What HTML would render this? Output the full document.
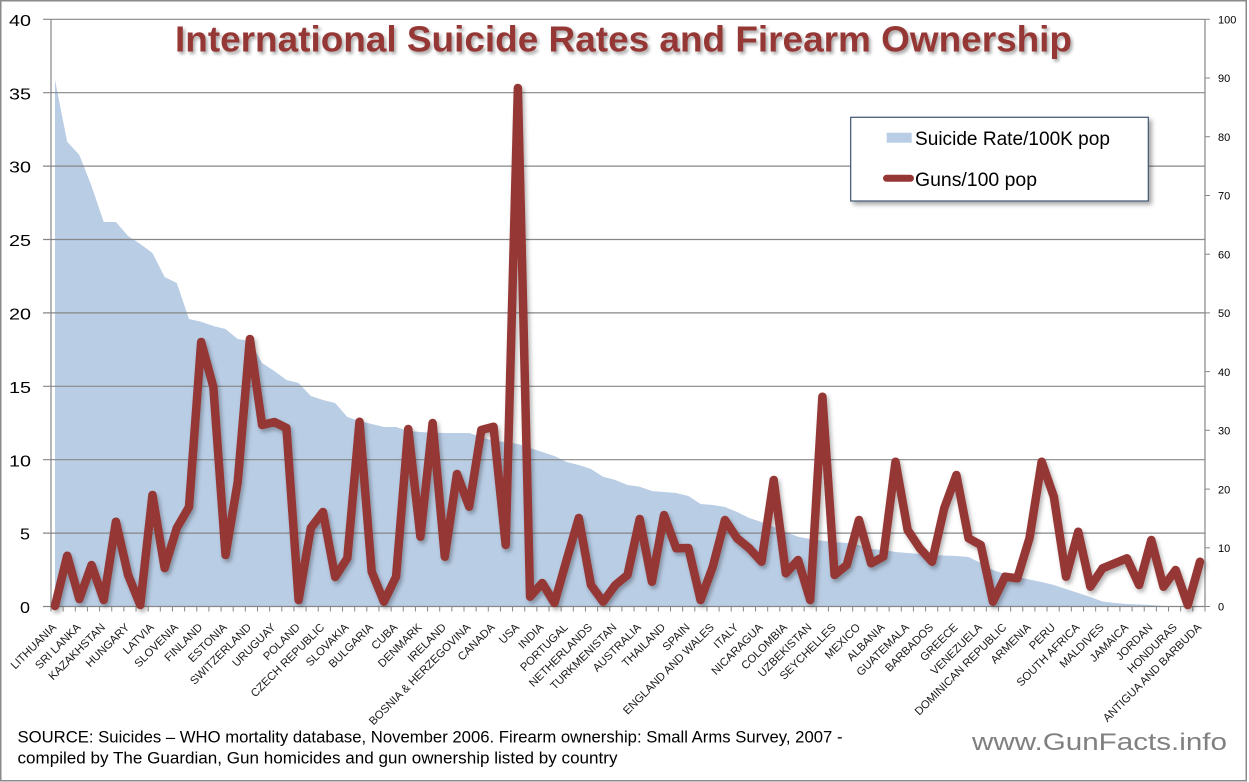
<!DOCTYPE html>
<html><head><meta charset="utf-8"><style>
html,body{margin:0;padding:0;background:#fff;}
svg{display:block;}
text{font-family:"Liberation Sans",Arial,sans-serif;}
</style></head><body>
<svg width="1249" height="782" viewBox="0 0 1249 782" xmlns="http://www.w3.org/2000/svg">
<defs>
<filter id="ts" x="-5%" y="-30%" width="110%" height="160%"><feDropShadow dx="2" dy="2.5" stdDeviation="1.5" flood-color="#000" flood-opacity="0.35"/></filter>
<filter id="ls" x="-5%" y="-5%" width="110%" height="110%"><feDropShadow dx="2" dy="3" stdDeviation="2" flood-color="#000" flood-opacity="0.3"/></filter>
<filter id="bs" x="-10%" y="-20%" width="120%" height="140%"><feDropShadow dx="3" dy="3" stdDeviation="2.5" flood-color="#000" flood-opacity="0.35"/></filter>
</defs>
<rect x="0" y="0" width="1249" height="782" fill="#fff"/>
<rect x="0.75" y="0.75" width="1245.5" height="780" fill="none" stroke="#8a8a8a" stroke-width="1.5"/>

<!-- area -->
<polygon fill="#b9cde5" points="55,606.5 55,80 67.18,141.7 79.36,155 91.54,186 103.72,222 115.9,222 128.09,236 140.27,244 152.45,253 164.63,277 176.81,283 188.99,319 201.17,321.7 213.35,326 225.53,329 237.72,339 249.9,341 262.08,363 274.26,371 286.44,380 298.62,383 310.8,396 322.98,400 335.16,403 347.34,417 359.52,421 371.7,424 383.89,427 396.07,427 408.25,431 420.43,432 432.61,432.7 444.79,433 456.97,433 469.15,433 481.33,437 493.51,441 505.69,442 517.88,444 530.06,448 542.24,452 554.42,456 566.6,462 578.78,465 590.96,469 603.14,476.7 615.32,480 627.5,485 639.69,486.7 651.87,491 664.05,492 676.23,493 688.41,496 700.59,504 712.77,505 724.95,507 737.13,512 749.31,518 761.5,522 773.68,527 785.86,532 798.04,536.7 810.22,539 822.4,540.7 834.58,542 846.76,543 858.94,545 871.12,549 883.3,550 895.49,552 907.67,553 919.85,554 932.03,555 944.21,555.5 956.39,556 968.57,557 980.75,563 992.93,570 1005.11,574 1017.3,577 1029.48,579.5 1041.66,582 1053.84,585 1066.02,589 1078.2,593 1090.38,597 1102.56,601.5 1114.74,603 1126.92,604 1139.1,604.5 1151.29,605 1163.47,606 1175.65,606.5 1187.83,606.5 1200,606.5"/>

<!-- gridlines (with left ticks) -->
<g stroke="#878787" stroke-width="1.2">
<line x1="43" y1="19.3" x2="1205" y2="19.3"/>
<line x1="43" y1="92.7" x2="1205" y2="92.7"/>
<line x1="43" y1="166.1" x2="1205" y2="166.1"/>
<line x1="43" y1="239.5" x2="1205" y2="239.5"/>
<line x1="43" y1="312.9" x2="1205" y2="312.9"/>
<line x1="43" y1="386.3" x2="1205" y2="386.3"/>
<line x1="43" y1="459.7" x2="1205" y2="459.7"/>
<line x1="43" y1="533.1" x2="1205" y2="533.1"/>
<line x1="43" y1="606.5" x2="1205" y2="606.5"/>
<line x1="51" y1="19" x2="51" y2="607"/>
<line x1="1205" y1="19" x2="1205" y2="607"/>
</g>
<!-- category ticks -->
<line x1="50.5" y1="609" x2="1206" y2="609" stroke="#878787" stroke-width="5" stroke-dasharray="1 11.147"/>
<!-- right ticks -->
<g stroke="#878787" stroke-width="1">
<line x1="1205" y1="19.3" x2="1210" y2="19.3"/><line x1="1205" y1="78" x2="1210" y2="78"/><line x1="1205" y1="136.7" x2="1210" y2="136.7"/><line x1="1205" y1="195.5" x2="1210" y2="195.5"/><line x1="1205" y1="254.2" x2="1210" y2="254.2"/><line x1="1205" y1="312.9" x2="1210" y2="312.9"/><line x1="1205" y1="371.6" x2="1210" y2="371.6"/><line x1="1205" y1="430.3" x2="1210" y2="430.3"/><line x1="1205" y1="489.1" x2="1210" y2="489.1"/><line x1="1205" y1="547.8" x2="1210" y2="547.8"/><line x1="1205" y1="606.5" x2="1210" y2="606.5"/>
</g>

<!-- guns line -->
<polyline filter="url(#ls)" fill="none" stroke="#953735" stroke-width="8.5" stroke-linejoin="round" stroke-linecap="round" points="55,606 67.18,555.7 79.36,599 91.54,565 103.72,600 115.9,521.7 128.09,575 140.27,605 152.45,495 164.63,568 176.81,528 188.99,507 201.17,342 213.35,387 225.53,555 237.72,482 249.9,339 262.08,425 274.26,422 286.44,428 298.62,600 310.8,528 322.98,512 335.16,577 347.34,558 359.52,421.7 371.7,571.7 383.89,601.7 396.07,576.7 408.25,429 420.43,536.7 432.61,423 444.79,556.7 456.97,474 469.15,506.7 481.33,430 493.51,426.7 505.69,545 517.88,88 530.06,596.7 542.24,583 554.42,603 566.6,560 578.78,518 590.96,585 603.14,601.7 615.32,585 627.5,575 639.69,519 651.87,581.7 664.05,515 676.23,548.3 688.41,548 700.59,600 712.77,566.7 724.95,520 737.13,538.3 749.31,548.3 761.5,561.7 773.68,480 785.86,573.3 798.04,560 810.22,600 822.4,396.7 834.58,575 846.76,565 858.94,520 871.12,563.3 883.3,556.7 895.49,461.7 907.67,530 919.85,548.3 932.03,561.7 944.21,508.3 956.39,475 968.57,538.3 980.75,545 992.93,601.7 1005.11,576.7 1017.3,578.3 1029.48,538.3 1041.66,461.7 1053.84,496.7 1066.02,576.7 1078.2,531.7 1090.38,586.7 1102.56,568.3 1114.74,563.3 1126.92,558.3 1139.1,585 1151.29,540 1163.47,586.7 1175.65,570 1187.83,605 1200,561.7"/>

<!-- left axis labels -->
<g font-size="15.5" fill="#000" text-anchor="end">
<text x="31" y="26" textLength="22" lengthAdjust="spacingAndGlyphs">40</text>
<text x="31" y="99.3" textLength="22" lengthAdjust="spacingAndGlyphs">35</text>
<text x="31" y="172.7" textLength="22" lengthAdjust="spacingAndGlyphs">30</text>
<text x="31" y="246.1" textLength="22" lengthAdjust="spacingAndGlyphs">25</text>
<text x="31" y="319.5" textLength="22" lengthAdjust="spacingAndGlyphs">20</text>
<text x="31" y="392.9" textLength="22" lengthAdjust="spacingAndGlyphs">15</text>
<text x="31" y="466.3" textLength="22" lengthAdjust="spacingAndGlyphs">10</text>
<text x="30" y="539.7" textLength="10" lengthAdjust="spacingAndGlyphs">5</text>
<text x="30" y="613.1" textLength="10" lengthAdjust="spacingAndGlyphs">0</text>
</g>
<!-- right axis labels -->
<g font-size="11" fill="#000">
<text x="1218" y="23.5">100</text>
<text x="1218" y="82.2">90</text>
<text x="1218" y="140.9">80</text>
<text x="1218" y="199.7">70</text>
<text x="1218" y="258.4">60</text>
<text x="1218" y="317.1">50</text>
<text x="1218" y="375.8">40</text>
<text x="1218" y="434.5">30</text>
<text x="1218" y="493.3">20</text>
<text x="1218" y="552">10</text>
<text x="1218" y="610.7">0</text>
</g>

<!-- category labels -->
<g font-size="11.3" fill="#1a1a1a" text-anchor="end">
<text transform="translate(57,628) rotate(-45)">LITHUANIA</text>
<text transform="translate(81.36,628) rotate(-45)">SRI LANKA</text>
<text transform="translate(105.72,628) rotate(-45)">KAZAKHSTAN</text>
<text transform="translate(130.09,628) rotate(-45)">HUNGARY</text>
<text transform="translate(154.45,628) rotate(-45)">LATVIA</text>
<text transform="translate(178.81,628) rotate(-45)">SLOVENIA</text>
<text transform="translate(203.17,628) rotate(-45)">FINLAND</text>
<text transform="translate(227.53,628) rotate(-45)">ESTONIA</text>
<text transform="translate(251.9,628) rotate(-45)">SWITZERLAND</text>
<text transform="translate(276.26,628) rotate(-45)">URUGUAY</text>
<text transform="translate(300.62,628) rotate(-45)">POLAND</text>
<text transform="translate(324.98,628) rotate(-45)">CZECH REPUBLIC</text>
<text transform="translate(349.34,628) rotate(-45)">SLOVAKIA</text>
<text transform="translate(373.7,628) rotate(-45)">BULGARIA</text>
<text transform="translate(398.07,628) rotate(-45)">CUBA</text>
<text transform="translate(422.43,628) rotate(-45)">DENMARK</text>
<text transform="translate(446.79,628) rotate(-45)">IRELAND</text>
<text transform="translate(471.15,628) rotate(-45)">BOSNIA &amp; HERZEGOVINA</text>
<text transform="translate(495.51,628) rotate(-45)">CANADA</text>
<text transform="translate(519.88,628) rotate(-45)">USA</text>
<text transform="translate(544.24,628) rotate(-45)">INDIA</text>
<text transform="translate(568.6,628) rotate(-45)">PORTUGAL</text>
<text transform="translate(592.96,628) rotate(-45)">NETHERLANDS</text>
<text transform="translate(617.32,628) rotate(-45)">TURKMENISTAN</text>
<text transform="translate(641.69,628) rotate(-45)">AUSTRALIA</text>
<text transform="translate(666.05,628) rotate(-45)">THAILAND</text>
<text transform="translate(690.41,628) rotate(-45)">SPAIN</text>
<text transform="translate(714.77,628) rotate(-45)">ENGLAND AND WALES</text>
<text transform="translate(739.13,628) rotate(-45)">ITALY</text>
<text transform="translate(763.5,628) rotate(-45)">NICARAGUA</text>
<text transform="translate(787.86,628) rotate(-45)">COLOMBIA</text>
<text transform="translate(812.22,628) rotate(-45)">UZBEKISTAN</text>
<text transform="translate(836.58,628) rotate(-45)">SEYCHELLES</text>
<text transform="translate(860.94,628) rotate(-45)">MEXICO</text>
<text transform="translate(885.3,628) rotate(-45)">ALBANIA</text>
<text transform="translate(909.67,628) rotate(-45)">GUATEMALA</text>
<text transform="translate(934.03,628) rotate(-45)">BARBADOS</text>
<text transform="translate(958.39,628) rotate(-45)">GREECE</text>
<text transform="translate(982.75,628) rotate(-45)">VENEZUELA</text>
<text transform="translate(1007.11,628) rotate(-45)">DOMINICAN REPUBLIC</text>
<text transform="translate(1031.48,628) rotate(-45)">ARMENIA</text>
<text transform="translate(1055.84,628) rotate(-45)">PERU</text>
<text transform="translate(1080.2,628) rotate(-45)">SOUTH AFRICA</text>
<text transform="translate(1104.56,628) rotate(-45)">MALDIVES</text>
<text transform="translate(1128.92,628) rotate(-45)">JAMAICA</text>
<text transform="translate(1153.29,628) rotate(-45)">JORDAN</text>
<text transform="translate(1177.65,628) rotate(-45)">HONDURAS</text>
<text transform="translate(1202,628) rotate(-45)">ANTIGUA AND BARBUDA</text>
</g>

<!-- title -->
<text x="175" y="51.7" font-size="36.5" font-weight="bold" fill="#953735" filter="url(#ts)" textLength="897" lengthAdjust="spacingAndGlyphs">International Suicide Rates and Firearm Ownership</text>

<!-- legend -->
<rect x="850.7" y="117.3" width="297.6" height="83.7" fill="#fff" stroke="#3f5470" stroke-width="1.2" filter="url(#bs)"/>
<rect x="886.7" y="132.7" width="25" height="10" fill="#b9cde5"/>
<text x="915" y="145" font-size="19.5" fill="#000" textLength="195" lengthAdjust="spacingAndGlyphs">Suicide Rate/100K pop</text>
<line x1="886.5" y1="178.3" x2="910.5" y2="178.3" stroke="#953735" stroke-width="7" stroke-linecap="round"/>
<text x="915" y="186" font-size="19.5" fill="#000" textLength="122" lengthAdjust="spacingAndGlyphs">Guns/100 pop</text>

<!-- source -->
<text x="17.5" y="742.3" font-size="16.5" fill="#000" textLength="825" lengthAdjust="spacingAndGlyphs">SOURCE: Suicides – WHO mortality database, November 2006. Firearm ownership: Small Arms Survey, 2007 -</text>
<text x="17.5" y="763.5" font-size="16.5" fill="#000" textLength="600" lengthAdjust="spacingAndGlyphs">compiled by The Guardian, Gun homicides and gun ownership listed by country</text>

<!-- watermark -->
<text x="972" y="750" font-size="24" fill="#808080" textLength="255" lengthAdjust="spacingAndGlyphs">www.GunFacts.info</text>
</svg>
</body></html>
